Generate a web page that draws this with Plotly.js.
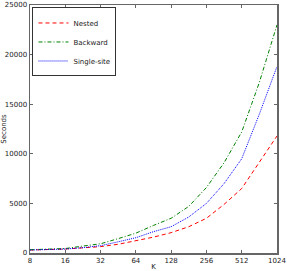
<!DOCTYPE html>
<html>
<head>
<meta charset="utf-8">
<script src="https://cdn.plot.ly/plotly-3.0.1.min.js"></script>
<style>html,body{margin:0;padding:0;background:#fff;}#chart{width:287px;height:271px;}</style>
</head>
<body>
<div id="chart"></div>
<script>
const K = [8, 11.3, 16, 22.6, 32, 45.3, 64, 90.5, 128, 181, 256, 362, 512, 724, 1024];
const nested = [300, 340, 400, 520, 640, 880, 1210, 1600, 2050, 2650, 3500, 4900, 6500, 9200, 11800];
const backward = [330, 380, 450, 700, 930, 1450, 2000, 2780, 3500, 4700, 6600, 9100, 12200, 17200, 23000];
const singleSite = [300, 330, 400, 540, 740, 1130, 1540, 2150, 2650, 3630, 5000, 7000, 9500, 14000, 18800];
const xTickVals = [8, 16, 32, 64, 128, 256, 512, 1024];
const xTickText = ["8", "16", "32", "64", "128", "256", "512", "1024"];
const yTickVals = [0, 5000, 10000, 15000, 20000, 25000];
const yTickText = ["0", "5000", "10000", "15000", "20000", "25000"];

const font = {family: "DejaVu Sans", size: 7, color: "#222"};
const traces = [
  {x: K, y: nested, name: "Nested", mode: "lines", line: {color: "#ff0000", width: 1, dash: "4px,3px"}},
  {x: K, y: backward, name: "Backward", mode: "lines", line: {color: "#008000", width: 1, dash: "4px,2px,1px,2px"}},
  {x: K, y: singleSite, name: "Single-site", mode: "lines", line: {color: "#0000ff", width: 1, dash: "1px,1px"}}
];
const axisCommon = {
  showline: true, mirror: "ticks", linecolor: "#666", linewidth: 1.5,
  ticks: "inside", ticklen: 3, tickcolor: "#666", tickwidth: 1,
  showgrid: false, zeroline: false, tickfont: font
};
const layout = {
  width: 287, height: 271,
  margin: {l: 30, r: 10, t: 5, b: 18},
  paper_bgcolor: "#fff", plot_bgcolor: "#fff",
  font: font,
  xaxis: Object.assign({}, axisCommon, {
    type: "log", range: [Math.log10(8), Math.log10(1024)],
    tickvals: xTickVals, ticktext: xTickText,
    title: {text: "K", font: font, standoff: 2}
  }),
  yaxis: Object.assign({}, axisCommon, {
    range: [0, 25000], tickvals: yTickVals, ticktext: yTickText,
    title: {text: "Seconds", font: font, standoff: 4}
  }),
  showlegend: true,
  legend: {
    x: 0.01, y: 0.99, xanchor: "left", yanchor: "top",
    bgcolor: "#fff", bordercolor: "#333", borderwidth: 1,
    font: {family: "DejaVu Sans", size: 7, color: "#222"},
    tracegroupgap: 0, itemwidth: 30
  }
};
Plotly.newPlot("chart", traces, layout, {displayModeBar: false, staticPlot: true});
</script>
</body>
</html>
